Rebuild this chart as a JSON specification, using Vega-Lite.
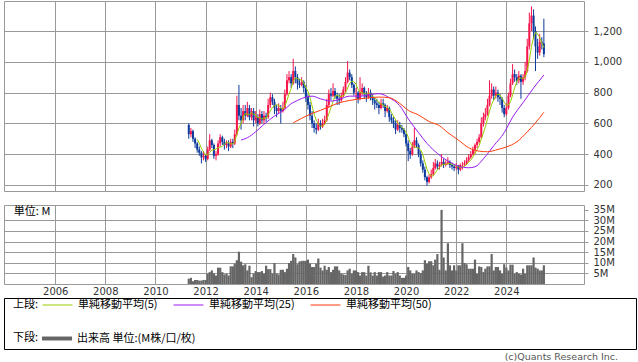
{
"$schema": "https://vega.github.io/schema/vega-lite/v6.json",
"padding": {"left": 3, "top": 0, "right": 0, "bottom": 0},
"background": "white",
"config": {
  "view": {"stroke": "#999999", "strokeWidth": 1},
  "axis": {"gridColor": "#999999", "gridWidth": 1, "gridOpacity": 1, "labelFont": "DejaVu Sans", "labelFontSize": 10, "labelColor": "#333333", "tickColor": "#999999", "domain": false, "title": null, "labelOverlap": false},
  "concat": {"spacing": 0}
},
"resolve": {"scale": {"stroke": "shared", "fill": "shared"}, "legend": {"stroke": "shared", "fill": "shared"}},
"datasets": {
"p": [
{"d":"2011-05","o":590,"h":600,"l":500,"c":530,"v":2.5},
{"d":"2011-06","o":530,"h":570,"l":510,"c":550,"v":2.9},
{"d":"2011-07","o":550,"h":560,"l":480,"c":500,"v":1.3},
{"d":"2011-08","o":500,"h":510,"l":440,"c":470,"v":1.9},
{"d":"2011-09","o":470,"h":480,"l":410,"c":430,"v":1.9,"a":496},
{"d":"2011-10","o":430,"h":450,"l":390,"c":410,"v":1.6,"a":472},
{"d":"2011-11","o":410,"h":420,"l":340,"c":380,"v":1.6,"a":438},
{"d":"2011-12","o":380,"h":420,"l":360,"c":390,"v":1.9,"a":416},
{"d":"2012-01","o":390,"h":400,"l":350,"c":370,"v":1.9,"a":396},
{"d":"2012-02","o":370,"h":450,"l":360,"c":430,"v":4.8,"a":396},
{"d":"2012-03","o":430,"h":530,"l":420,"c":490,"v":5.6,"a":412},
{"d":"2012-04","o":490,"h":500,"l":440,"c":460,"v":6.4,"a":428},
{"d":"2012-05","o":460,"h":470,"l":370,"c":390,"v":5.0,"a":428},
{"d":"2012-06","o":390,"h":420,"l":360,"c":400,"v":4.0,"a":434},
{"d":"2012-07","o":400,"h":490,"l":390,"c":470,"v":7.7,"a":442},
{"d":"2012-08","o":470,"h":530,"l":450,"c":510,"v":7.7,"a":446},
{"d":"2012-09","o":510,"h":520,"l":460,"c":480,"v":5.6,"a":450},
{"d":"2012-10","o":480,"h":500,"l":430,"c":460,"v":4.5,"a":464},
{"d":"2012-11","o":460,"h":490,"l":440,"c":470,"v":4.8,"a":478},
{"d":"2012-12","o":470,"h":490,"l":420,"c":450,"v":4.0,"a":474},
{"d":"2013-01","o":450,"h":500,"l":440,"c":480,"v":8.3,"a":468},
{"d":"2013-02","o":480,"h":500,"l":440,"c":470,"v":8.3,"a":466},
{"d":"2013-03","o":470,"h":560,"l":460,"c":530,"v":9.6,"a":480},
{"d":"2013-04","o":530,"h":780,"l":520,"c":720,"v":11.2,"a":530},
{"d":"2013-05","o":720,"h":850,"l":620,"c":650,"v":15.2,"a":570},
{"d":"2013-06","o":650,"h":700,"l":560,"c":620,"v":10.5,"a":598},
{"d":"2013-07","o":620,"h":720,"l":600,"c":680,"v":8.8,"a":640},
{"d":"2013-08","o":680,"h":720,"l":620,"c":650,"v":9.3,"a":664},
{"d":"2013-09","o":650,"h":740,"l":640,"c":700,"v":6.4,"a":660},
{"d":"2013-10","o":700,"h":720,"l":620,"c":640,"v":8.6,"a":658},
{"d":"2013-11","o":640,"h":700,"l":620,"c":680,"v":3.2,"a":670},
{"d":"2013-12","o":680,"h":700,"l":580,"c":620,"v":4.8,"a":658},
{"d":"2014-01","o":620,"h":680,"l":600,"c":640,"v":6.1,"a":656},
{"d":"2014-02","o":640,"h":660,"l":580,"c":600,"v":5.6,"a":636},
{"d":"2014-03","o":600,"h":690,"l":590,"c":660,"v":5.6,"a":640},
{"d":"2014-04","o":660,"h":680,"l":600,"c":620,"v":6.1,"a":628},
{"d":"2014-05","o":620,"h":680,"l":600,"c":650,"v":4.8,"a":634},
{"d":"2014-06","o":650,"h":670,"l":610,"c":640,"v":8.6,"a":634},
{"d":"2014-07","o":640,"h":760,"l":630,"c":720,"v":7.0,"a":658},
{"d":"2014-08","o":720,"h":800,"l":700,"c":770,"v":7.0,"a":680},
{"d":"2014-09","o":770,"h":790,"l":720,"c":740,"v":4.8,"a":704},
{"d":"2014-10","o":740,"h":760,"l":660,"c":700,"v":9.9,"a":714},
{"d":"2014-11","o":700,"h":720,"l":640,"c":680,"v":4.8,"a":722},
{"d":"2014-12","o":680,"h":730,"l":660,"c":700,"v":4.5,"a":718},
{"d":"2015-01","o":700,"h":720,"l":600,"c":680,"v":6.7,"a":700},
{"d":"2015-02","o":680,"h":740,"l":670,"c":700,"v":6.7,"a":692},
{"d":"2015-03","o":700,"h":820,"l":690,"c":790,"v":5.6,"a":710},
{"d":"2015-04","o":790,"h":920,"l":780,"c":880,"v":7.2,"a":750},
{"d":"2015-05","o":880,"h":940,"l":860,"c":900,"v":9.9,"a":790},
{"d":"2015-06","o":900,"h":920,"l":830,"c":860,"v":10.9,"a":826},
{"d":"2015-07","o":860,"h":1020,"l":850,"c":940,"v":14.1,"a":874},
{"d":"2015-08","o":940,"h":970,"l":860,"c":900,"v":12.5,"a":896},
{"d":"2015-09","o":900,"h":920,"l":820,"c":860,"v":9.3,"a":892},
{"d":"2015-10","o":860,"h":890,"l":830,"c":850,"v":10.6,"a":882},
{"d":"2015-11","o":850,"h":900,"l":840,"c":870,"v":10.9,"a":884},
{"d":"2015-12","o":870,"h":880,"l":800,"c":830,"v":10.9,"a":862},
{"d":"2016-01","o":830,"h":850,"l":740,"c":770,"v":10.9,"a":836},
{"d":"2016-02","o":770,"h":790,"l":690,"c":720,"v":11.5,"a":808},
{"d":"2016-03","o":720,"h":740,"l":620,"c":650,"v":9.6,"a":768},
{"d":"2016-04","o":650,"h":680,"l":570,"c":600,"v":8.0,"a":714},
{"d":"2016-05","o":600,"h":620,"l":540,"c":570,"v":8.0,"a":662},
{"d":"2016-06","o":570,"h":600,"l":530,"c":560,"v":9.6,"a":620},
{"d":"2016-07","o":560,"h":630,"l":550,"c":600,"v":12.0,"a":596},
{"d":"2016-08","o":600,"h":620,"l":560,"c":580,"v":7.7,"a":582},
{"d":"2016-09","o":580,"h":630,"l":570,"c":600,"v":6.4,"a":582},
{"d":"2016-10","o":600,"h":650,"l":590,"c":620,"v":8.6,"a":592},
{"d":"2016-11","o":620,"h":760,"l":610,"c":720,"v":6.7,"a":624},
{"d":"2016-12","o":720,"h":820,"l":700,"c":790,"v":8.0,"a":662},
{"d":"2017-01","o":790,"h":830,"l":750,"c":780,"v":5.6,"a":702},
{"d":"2017-02","o":780,"h":860,"l":770,"c":810,"v":6.7,"a":744},
{"d":"2017-03","o":810,"h":830,"l":760,"c":780,"v":8.3,"a":776},
{"d":"2017-04","o":780,"h":800,"l":720,"c":760,"v":8.3,"a":784},
{"d":"2017-05","o":760,"h":790,"l":720,"c":750,"v":6.4,"a":776},
{"d":"2017-06","o":750,"h":800,"l":740,"c":780,"v":4.8,"a":776},
{"d":"2017-07","o":780,"h":840,"l":770,"c":820,"v":4.5,"a":778},
{"d":"2017-08","o":820,"h":900,"l":800,"c":870,"v":4.2,"a":796},
{"d":"2017-09","o":870,"h":1005,"l":860,"c":930,"v":6.4,"a":830},
{"d":"2017-10","o":930,"h":950,"l":880,"c":900,"v":7.2,"a":860},
{"d":"2017-11","o":900,"h":920,"l":830,"c":850,"v":4.8,"a":874},
{"d":"2017-12","o":850,"h":860,"l":780,"c":800,"v":6.4,"a":870},
{"d":"2018-01","o":800,"h":830,"l":760,"c":800,"v":6.4,"a":856},
{"d":"2018-02","o":800,"h":810,"l":730,"c":760,"v":5.6,"a":822},
{"d":"2018-03","o":760,"h":900,"l":750,"c":800,"v":4.0,"a":802},
{"d":"2018-04","o":800,"h":860,"l":780,"c":830,"v":5.6,"a":798},
{"d":"2018-05","o":830,"h":840,"l":760,"c":790,"v":5.6,"a":796},
{"d":"2018-06","o":790,"h":810,"l":740,"c":770,"v":4.0,"a":790},
{"d":"2018-07","o":770,"h":830,"l":760,"c":800,"v":8.6,"a":798},
{"d":"2018-08","o":800,"h":820,"l":750,"c":770,"v":5.5,"a":792},
{"d":"2018-09","o":770,"h":790,"l":720,"c":750,"v":4.0,"a":776},
{"d":"2018-10","o":750,"h":770,"l":690,"c":730,"v":5.6,"a":764},
{"d":"2018-11","o":730,"h":760,"l":700,"c":720,"v":4.0,"a":754},
{"d":"2018-12","o":720,"h":740,"l":660,"c":700,"v":5.6,"a":734},
{"d":"2019-01","o":700,"h":760,"l":690,"c":730,"v":5.6,"a":726},
{"d":"2019-02","o":730,"h":760,"l":700,"c":720,"v":3.5,"a":720},
{"d":"2019-03","o":720,"h":730,"l":640,"c":680,"v":4.0,"a":710},
{"d":"2019-04","o":680,"h":720,"l":670,"c":700,"v":5.6,"a":706},
{"d":"2019-05","o":700,"h":710,"l":610,"c":640,"v":4.0,"a":694},
{"d":"2019-06","o":640,"h":660,"l":600,"c":620,"v":4.0,"a":672},
{"d":"2019-07","o":620,"h":640,"l":570,"c":600,"v":6.1,"a":648},
{"d":"2019-08","o":600,"h":620,"l":530,"c":560,"v":4.8,"a":624},
{"d":"2019-09","o":560,"h":620,"l":550,"c":590,"v":5.6,"a":602},
{"d":"2019-10","o":590,"h":610,"l":540,"c":570,"v":4.0,"a":588},
{"d":"2019-11","o":570,"h":590,"l":540,"c":560,"v":2.9,"a":576},
{"d":"2019-12","o":560,"h":570,"l":510,"c":530,"v":2.9,"a":562},
{"d":"2020-01","o":530,"h":540,"l":450,"c":470,"v":4.0,"a":544},
{"d":"2020-02","o":470,"h":490,"l":355,"c":420,"v":8.0,"a":510},
{"d":"2020-03","o":420,"h":440,"l":370,"c":400,"v":6.4,"a":476},
{"d":"2020-04","o":400,"h":480,"l":390,"c":450,"v":4.8,"a":454},
{"d":"2020-05","o":450,"h":570,"l":440,"c":490,"v":4.8,"a":446},
{"d":"2020-06","o":490,"h":510,"l":440,"c":460,"v":6.4,"a":444},
{"d":"2020-07","o":460,"h":470,"l":380,"c":400,"v":5.6,"a":440},
{"d":"2020-08","o":400,"h":420,"l":320,"c":340,"v":5.1,"a":428},
{"d":"2020-09","o":340,"h":360,"l":280,"c":300,"v":6.4,"a":398},
{"d":"2020-10","o":300,"h":320,"l":230,"c":250,"v":11.2,"a":350},
{"d":"2020-11","o":250,"h":260,"l":195,"c":220,"v":9.6,"a":302},
{"d":"2020-12","o":220,"h":270,"l":210,"c":250,"v":10.7,"a":272},
{"d":"2021-01","o":250,"h":300,"l":240,"c":270,"v":10.7,"a":258},
{"d":"2021-02","o":270,"h":350,"l":260,"c":310,"v":8.8,"a":260},
{"d":"2021-03","o":310,"h":370,"l":300,"c":340,"v":11.5,"a":278},
{"d":"2021-04","o":340,"h":360,"l":300,"c":320,"v":14.1,"a":298},
{"d":"2021-05","o":320,"h":350,"l":300,"c":330,"v":6.7,"a":314},
{"d":"2021-06","o":330,"h":400,"l":320,"c":350,"v":34.9,"a":330},
{"d":"2021-07","o":350,"h":370,"l":310,"c":330,"v":12.5,"a":334},
{"d":"2021-08","o":330,"h":360,"l":320,"c":340,"v":6.4,"a":334},
{"d":"2021-09","o":340,"h":380,"l":330,"c":350,"v":19.2,"a":340},
{"d":"2021-10","o":350,"h":360,"l":310,"c":330,"v":8.8,"a":340},
{"d":"2021-11","o":330,"h":345,"l":300,"c":320,"v":6.4,"a":334},
{"d":"2021-12","o":320,"h":330,"l":290,"c":310,"v":8.8,"a":330},
{"d":"2022-01","o":310,"h":340,"l":300,"c":320,"v":6.4,"a":326},
{"d":"2022-02","o":320,"h":330,"l":270,"c":300,"v":8.8,"a":316},
{"d":"2022-03","o":300,"h":340,"l":290,"c":330,"v":8.8,"a":316},
{"d":"2022-04","o":330,"h":350,"l":300,"c":330,"v":19.2,"a":318},
{"d":"2022-05","o":330,"h":360,"l":320,"c":340,"v":9.9,"a":324},
{"d":"2022-06","o":340,"h":380,"l":330,"c":360,"v":9.3,"a":332},
{"d":"2022-07","o":360,"h":400,"l":350,"c":380,"v":7.2,"a":348},
{"d":"2022-08","o":380,"h":420,"l":370,"c":400,"v":7.2,"a":362},
{"d":"2022-09","o":400,"h":450,"l":390,"c":430,"v":7.2,"a":382},
{"d":"2022-10","o":430,"h":470,"l":400,"c":460,"v":11.5,"a":406},
{"d":"2022-11","o":460,"h":500,"l":440,"c":480,"v":4.8,"a":430},
{"d":"2022-12","o":480,"h":530,"l":470,"c":510,"v":8.3,"a":456},
{"d":"2023-01","o":510,"h":640,"l":500,"c":600,"v":8.0,"a":496},
{"d":"2023-02","o":600,"h":670,"l":580,"c":640,"v":5.6,"a":538},
{"d":"2023-03","o":640,"h":700,"l":620,"c":660,"v":7.2,"a":578},
{"d":"2023-04","o":660,"h":760,"l":650,"c":720,"v":8.3,"a":626},
{"d":"2023-05","o":720,"h":880,"l":710,"c":780,"v":8.3,"a":680},
{"d":"2023-06","o":780,"h":860,"l":760,"c":820,"v":14.1,"a":724},
{"d":"2023-07","o":820,"h":840,"l":750,"c":780,"v":6.4,"a":752},
{"d":"2023-08","o":780,"h":840,"l":760,"c":800,"v":8.0,"a":780},
{"d":"2023-09","o":800,"h":820,"l":740,"c":770,"v":8.0,"a":790},
{"d":"2023-10","o":770,"h":790,"l":720,"c":760,"v":6.4,"a":786},
{"d":"2023-11","o":760,"h":770,"l":670,"c":700,"v":4.8,"a":762},
{"d":"2023-12","o":700,"h":720,"l":640,"c":660,"v":9.3,"a":738},
{"d":"2024-01","o":660,"h":730,"l":650,"c":700,"v":7.7,"a":718},
{"d":"2024-02","o":700,"h":800,"l":690,"c":780,"v":6.4,"a":720},
{"d":"2024-03","o":780,"h":890,"l":770,"c":860,"v":9.1,"a":740},
{"d":"2024-04","o":860,"h":985,"l":850,"c":920,"v":9.1,"a":784},
{"d":"2024-05","o":920,"h":950,"l":870,"c":900,"v":4.8,"a":832},
{"d":"2024-06","o":900,"h":920,"l":850,"c":880,"v":5.6,"a":868},
{"d":"2024-07","o":880,"h":940,"l":860,"c":910,"v":4.8,"a":894},
{"d":"2024-08","o":910,"h":920,"l":760,"c":870,"v":4.5,"a":896},
{"d":"2024-09","o":870,"h":920,"l":850,"c":900,"v":7.2,"a":892},
{"d":"2024-10","o":900,"h":1000,"l":880,"c":940,"v":4.8,"a":900},
{"d":"2024-11","o":940,"h":1150,"l":930,"c":1100,"v":8.8,"a":944},
{"d":"2024-12","o":1100,"h":1320,"l":1080,"c":1250,"v":8.8,"a":1012},
{"d":"2025-01","o":1250,"h":1360,"l":1200,"c":1300,"v":8.8,"a":1098},
{"d":"2025-02","o":1300,"h":1340,"l":1150,"c":1200,"v":12.5,"a":1158},
{"d":"2025-03","o":1200,"h":1230,"l":940,"c":1100,"v":7.7,"a":1190},
{"d":"2025-04","o":1100,"h":1150,"l":1020,"c":1060,"v":7.2,"a":1182},
{"d":"2025-05","o":1060,"h":1180,"l":1040,"c":1130,"v":6.4,"a":1158},
{"d":"2025-06","o":1130,"h":1160,"l":1080,"c":1120,"v":6.4,"a":1122},
{"d":"2025-07","o":1120,"h":1280,"l":1030,"c":1050,"v":8.8,"a":1092}
],
"m25": [
{"d":"2013-06","v":492},{"d":"2013-09","v":507},{"d":"2014-01","v":546},{"d":"2014-05","v":594},{"d":"2014-10","v":648},{"d":"2015-03","v":691},{"d":"2015-06","v":728},{"d":"2015-09","v":749},{"d":"2016-01","v":771},{"d":"2016-04","v":777},{"d":"2016-08","v":760},{"d":"2017-01","v":745},{"d":"2017-05","v":756},{"d":"2017-10","v":777},{"d":"2018-03","v":777},{"d":"2018-08","v":788},{"d":"2018-12","v":793},{"d":"2019-05","v":767},{"d":"2019-10","v":715},{"d":"2020-02","v":630},{"d":"2020-07","v":540},{"d":"2020-11","v":470},{"d":"2021-04","v":405},{"d":"2021-09","v":356},{"d":"2022-02","v":323},{"d":"2022-07","v":312},{"d":"2022-10","v":318},{"d":"2023-02","v":370},{"d":"2023-07","v":455},{"d":"2023-12","v":540},{"d":"2024-04","v":640},{"d":"2024-09","v":735},{"d":"2025-02","v":830},{"d":"2025-07","v":914}
],
"m50": [
{"d":"2015-07","v":604},{"d":"2015-11","v":633},{"d":"2016-03","v":659},{"d":"2016-08","v":685},{"d":"2017-01","v":713},{"d":"2017-05","v":734},{"d":"2017-10","v":749},{"d":"2018-03","v":760},{"d":"2018-08","v":767},{"d":"2018-12","v":771},{"d":"2019-05","v":767},{"d":"2019-10","v":730},{"d":"2020-02","v":685},{"d":"2020-07","v":655},{"d":"2020-12","v":612},{"d":"2021-05","v":585},{"d":"2021-09","v":540},{"d":"2022-02","v":492},{"d":"2022-07","v":442},{"d":"2022-12","v":420},{"d":"2023-04","v":416},{"d":"2023-09","v":431},{"d":"2024-01","v":447},{"d":"2024-06","v":480},{"d":"2024-11","v":545},{"d":"2025-03","v":604},{"d":"2025-07","v":672}
]
},
"vconcat": [
{
"spacing": 12,
"resolve": {"scale": {"stroke": "shared", "fill": "shared"}, "legend": {"stroke": "shared", "fill": "shared"}},
"vconcat": [
{
"width": 580, "height": 190,
"encoding": {
  "x": {"field": "d", "type": "temporal", "scale": {"domain": [{"year": 2004, "month": 2, "date": 27}, {"year": 2026, "month": 11, "date": 25}]},
        "axis": {"labels": false, "ticks": false, "domain": false, "grid": true, "title": null,
                 "values": [{"year":2006,"month":1,"date":1},{"year":2008,"month":1,"date":1},{"year":2010,"month":1,"date":1},{"year":2012,"month":1,"date":1},{"year":2014,"month":1,"date":1},{"year":2016,"month":1,"date":1},{"year":2018,"month":1,"date":1},{"year":2020,"month":1,"date":1},{"year":2022,"month":1,"date":1},{"year":2024,"month":1,"date":1}]}}
},
"layer": [
  {"data": {"name": "p"}, "mark": {"type": "rule", "strokeWidth": 1},
   "encoding": {
     "y": {"field": "l", "type": "quantitative", "scale": {"domain": [161, 1395], "nice": false, "zero": false},
           "axis": {"orient": "right", "values": [200, 400, 600, 800, 1000, 1200], "format": ",d", "tickSize": 4, "labelPadding": 5, "grid": true, "title": null, "labelOverlap": false}},
     "y2": {"field": "h"},
     "color": {"condition": {"test": "datum.c >= datum.o", "value": "#f5144b"}, "value": "#0c3a9c"}
   }},
  {"data": {"name": "p"}, "mark": {"type": "bar", "size": 2},
   "encoding": {
     "y": {"field": "o", "type": "quantitative",
           "axis": {"orient": "right", "values": [200, 400, 600, 800, 1000, 1200], "format": ",d", "tickSize": 4, "labelPadding": 5, "grid": true, "title": null, "labelOverlap": false}},
     "y2": {"field": "c"},
     "color": {"condition": {"test": "datum.c >= datum.o", "value": "#f5144b"}, "value": "#0c3a9c"}
   }},
  {"data": {"name": "p"}, "transform": [{"filter": "isValid(datum.a)"}], "mark": {"type": "line", "strokeWidth": 1},
   "encoding": {
     "y": {"field": "a", "type": "quantitative",
           "axis": {"orient": "right", "values": [200, 400, 600, 800, 1000, 1200], "format": ",d", "tickSize": 4, "labelPadding": 5, "grid": true, "title": null, "labelOverlap": false}},
     "stroke": {"datum": "単純移動平均(5)",
       "scale": {"domain": ["単純移動平均(5)", "単純移動平均(25)", "単純移動平均(50)"], "range": ["#99cc00", "#9a1cf0", "#ff3d0a"]},
       "legend": {"orient": "none", "legendX": 9, "legendY": 298, "direction": "horizontal", "title": "上段:", "titleOrient": "left",
                  "titleFont": "Noto Sans CJK JP", "titleFontSize": 11, "titleFontWeight": "normal", "titleColor": "#000000", "titlePadding": 3,
                  "symbolType": "M-1,0H4.45", "symbolSize": 121, "symbolStrokeWidth": 1,
                  "labelFont": "Noto Sans CJK JP", "labelFontSize": 11, "labelColor": "#000000", "labelOffset": 24, "labelLimit": 300, "columnPadding": 13}}
   }},
  {"data": {"name": "m25"}, "mark": {"type": "line", "strokeWidth": 1, "interpolate": "monotone"},
   "encoding": {"y": {"field": "v", "type": "quantitative",
           "axis": {"orient": "right", "values": [200, 400, 600, 800, 1000, 1200], "format": ",d", "tickSize": 4, "labelPadding": 5, "grid": true, "title": null, "labelOverlap": false}},
     "stroke": {"datum": "単純移動平均(25)"}}},
  {"data": {"name": "m50"}, "mark": {"type": "line", "strokeWidth": 1, "interpolate": "monotone"},
   "encoding": {"y": {"field": "v", "type": "quantitative",
           "axis": {"orient": "right", "values": [200, 400, 600, 800, 1000, 1200], "format": ",d", "tickSize": 4, "labelPadding": 5, "grid": true, "title": null, "labelOverlap": false}},
     "stroke": {"datum": "単純移動平均(50)"}}}
]
},
{
"width": 580, "height": 79,
"layer": [
  {"data": {"name": "p"}, "mark": {"type": "bar", "size": 2.2},
   "encoding": {
     "x": {"field": "d", "type": "temporal", "scale": {"domain": [{"year": 2004, "month": 2, "date": 27}, {"year": 2026, "month": 11, "date": 25}]},
           "axis": {"orient": "bottom", "format": "%Y", "ticks": false, "domain": false, "grid": true, "labelPadding": 2, "title": null,
                    "values": [{"year":2006,"month":1,"date":1},{"year":2008,"month":1,"date":1},{"year":2010,"month":1,"date":1},{"year":2012,"month":1,"date":1},{"year":2014,"month":1,"date":1},{"year":2016,"month":1,"date":1},{"year":2018,"month":1,"date":1},{"year":2020,"month":1,"date":1},{"year":2022,"month":1,"date":1},{"year":2024,"month":1,"date":1}]}},
     "y": {"field": "v", "type": "quantitative", "scale": {"domain": [0, 37.2], "nice": false},
           "axis": {"orient": "right", "values": [5, 10, 15, 20, 25, 30, 35], "labelExpr": "datum.value + 'M'", "tickSize": 4, "labelPadding": 5, "grid": true, "title": null, "labelOverlap": false,
                    "gridOpacity": {"condition": {"test": "datum.value >= 35", "value": 0}, "value": 1}}},
     "fill": {"datum": "出来高 単位:(M株/口/枚)", "scale": {"range": ["#666666"]},
       "legend": {"orient": "none", "legendX": 9, "legendY": 332, "title": "下段:", "titleOrient": "left",
                  "titleFont": "Noto Sans CJK JP", "titleFontSize": 11, "titleFontWeight": "normal", "titleColor": "#000000", "titlePadding": 3,
                  "symbolType": "M-1,-0.36H4.45V0.36H-1Z", "symbolSize": 121, "symbolStrokeWidth": 0,
                  "labelFont": "Noto Sans CJK JP", "labelFontSize": 11, "labelColor": "#000000", "labelOffset": 24, "labelLimit": 300}}
   }},
  {"data": {"values": [{}]}, "mark": {"type": "text", "align": "left", "baseline": "middle", "font": "Noto Sans CJK JP", "fontSize": 11, "color": "#000000"},
   "encoding": {
     "x": {"datum": {"year": 2004, "month": 5, "date": 8}, "type": "temporal"},
     "y": {"datum": 34, "type": "quantitative",
           "axis": {"orient": "right", "values": [5, 10, 15, 20, 25, 30, 35], "labelExpr": "datum.value + 'M'", "tickSize": 4, "labelPadding": 5, "grid": true, "title": null, "labelOverlap": false,
                    "gridOpacity": {"condition": {"test": "datum.value >= 35", "value": 0}, "value": 1}}},
     "text": {"value": "単位: M"}
   }}
]
}
]
},
{
"width": 632, "height": 51,
"view": {"stroke": "#000000", "strokeWidth": 1},
"title": {"text": "(c)Quants Research Inc.", "orient": "bottom", "anchor": "end", "dx": -18, "offset": 3, "font": "DejaVu Sans", "fontSize": 9.5, "fontWeight": "normal", "color": "#555555"},
"data": {"values": [{}]},
"mark": {"type": "text"},
"encoding": {"text": {"value": ""}}
}
]
}
